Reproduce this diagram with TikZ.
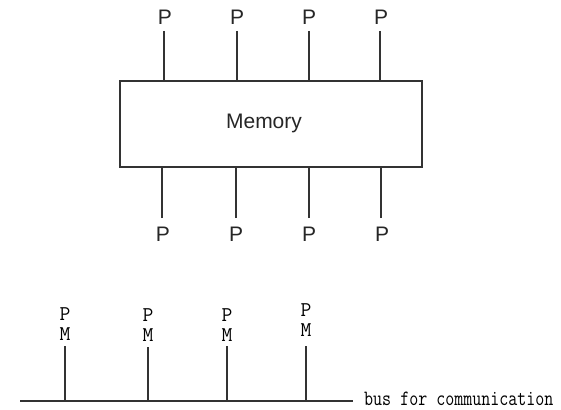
\documentclass[tikz,border=0pt]{standalone}
\usepackage{fontspec}
\setmainfont{Liberation Serif}
\newfontfamily\labelsans{Liberation Sans}
\begin{document}
\begin{tikzpicture}[x=1pt,y=-1pt,
  wire/.style={line width=1.3pt, draw=black!80},
  plabel/.style={font=\labelsans\fontsize{21}{22}\selectfont, inner sep=0pt, text=black!85},
  pmlabel/.style={font=\ttfamily\fontsize{21}{20}\selectfont, align=center, inner sep=0pt, text=black},
  membox/.style={draw=black!80, line width=1.3pt, minimum width=302pt, minimum height=86pt, inner sep=0pt}]
\useasboundingbox (0,0) rectangle (561,409);

% shared memory with processors above and below
\node[membox] (mem) at (271,124) {};
\node[plabel] (memlabel) at (264,123) {Memory};

\node[plabel] (pt1) at (165,17) {P};
\node[plabel] (pt2) at (237,17) {P};
\node[plabel] (pt3) at (309,17) {P};
\node[plabel] (pt4) at (381,17) {P};

\node[plabel] (pb1) at (163,234) {P};
\node[plabel] (pb2) at (236,234) {P};
\node[plabel] (pb3) at (309,234) {P};
\node[plabel] (pb4) at (382,234) {P};

\foreach \i/\xx in {1/164,2/237,3/309,4/380}{
  \draw[wire] (\xx,31) coordinate (tt\i) -- (tt\i |- mem.north);
}
\foreach \i/\xx in {1/162,2/236,3/309,4/381}{
  \draw[wire] (\xx,218) coordinate (bb\i) -- (bb\i |- mem.south);
}

% processor-memory pairs on a common bus
\coordinate (busL) at (20,401);
\coordinate (busR) at (353,401);
\draw[wire] (busL) -- (busR);
\node[anchor=base west, inner sep=0pt, font=\ttfamily\fontsize{17.5}{18}\selectfont, text=black] (buslabel) at (364,405.5) {\scalebox{1}[1.25]{bus for communication}};

\node[pmlabel] (pm1) at (65,324) {P\\M};
\node[pmlabel] (pm2) at (148,325) {P\\M};
\node[pmlabel] (pm3) at (227,325) {P\\M};
\node[pmlabel] (pm4) at (306,320) {P\\M};

\foreach \i/\yy in {1/346,2/347,3/346,4/346}{
  \draw[wire] (pm\i |- 0,\yy) coordinate (pmtop\i) -- (pmtop\i |- busL);
}
\end{tikzpicture}
\end{document}
